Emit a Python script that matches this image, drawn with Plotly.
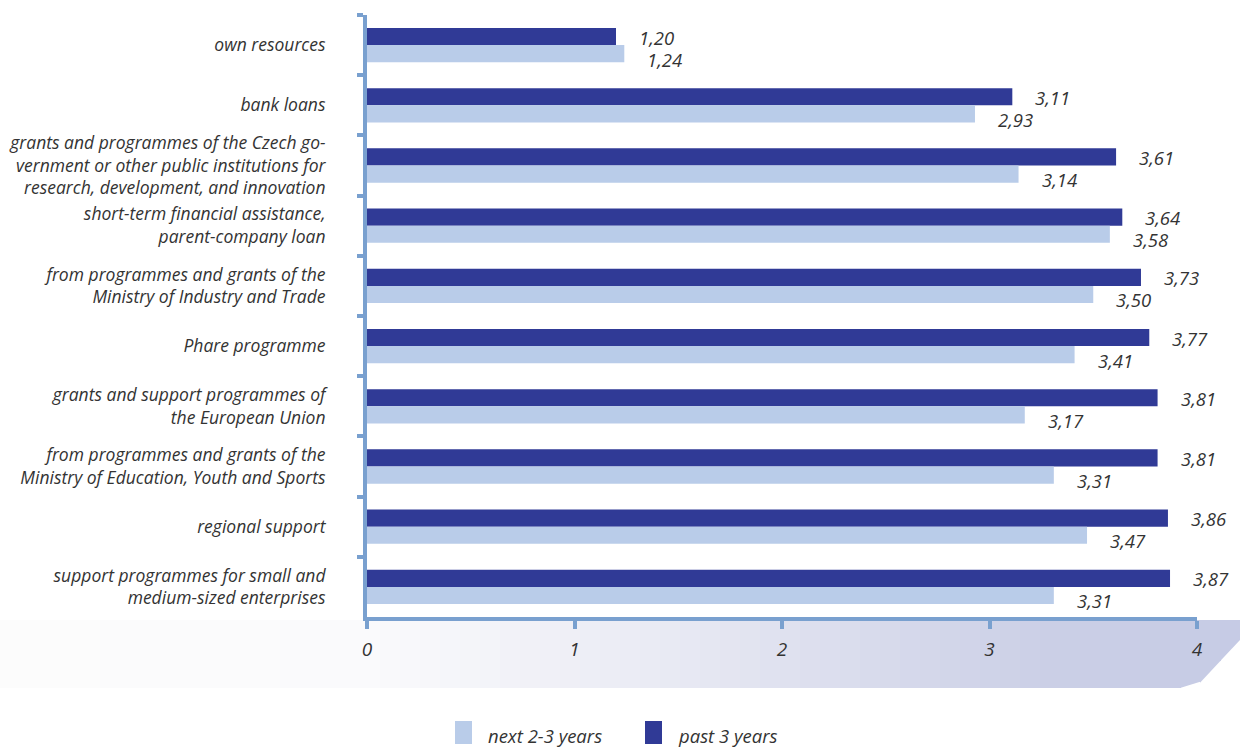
import plotly.graph_objects as go

categories = [
    "own resources",
    "bank loans",
    "grants and programmes of the Czech go-<br>vernment or other public institutions for<br>research, development, and innovation",
    "short-term financial assistance,<br>parent-company loan",
    "from programmes and grants of the<br>Ministry of Industry and Trade",
    "Phare programme",
    "grants and support programmes of<br>the European Union",
    "from programmes and grants of the<br>Ministry of Education, Youth and Sports",
    "regional support",
    "support programmes for small and<br>medium-sized enterprises",
]
past_3_years = [1.20, 3.11, 3.61, 3.64, 3.73, 3.77, 3.81, 3.81, 3.86, 3.87]
next_2_3_years = [1.24, 2.93, 3.14, 3.58, 3.50, 3.41, 3.17, 3.31, 3.47, 3.31]
x_ticks = [0, 1, 2, 3, 4]
series_names = ["next 2-3 years", "past 3 years"]

DARK = "#303a96"
LIGHT = "#b9cce9"
AXIS = "#79a0cf"
TEXT = "#333333"
FONT = "Open Sans"
FS = 17.5

W, H = 1240, 748
L, R, T, B = 367, 43, 15, 131
PW, PH = W - L - R, H - T - B


def px2x(px):
    return (px - L) / PW


def py2y(py):
    return (H - B - py) / PH


def fmt(v):
    return f"{v:.2f}".replace(".", ",")


def tfont(size=FS):
    return dict(family=FONT, size=size, color=TEXT, style="italic")


fig = go.Figure()
fig.add_trace(go.Bar(y=categories, x=past_3_years, orientation="h", name=series_names[1],
                     marker=dict(color=DARK, line=dict(width=0)), showlegend=False,
                     hoverinfo="x"))
fig.add_trace(go.Bar(y=categories, x=next_2_3_years, orientation="h", name=series_names[0],
                     marker=dict(color=LIGHT, line=dict(width=0)), showlegend=False,
                     hoverinfo="x"))

annotations = []
for c, v in zip(categories, past_3_years):
    annotations.append(dict(x=v, y=c, xref="x", yref="y", text=fmt(v), showarrow=False,
                            xanchor="left", yanchor="middle", xshift=21, yshift=8,
                            font=tfont(18.5)))
for c, v in zip(categories, next_2_3_years):
    annotations.append(dict(x=v, y=c, xref="x", yref="y", text=fmt(v), showarrow=False,
                            xanchor="left", yanchor="middle", xshift=21, yshift=-14,
                            font=tfont(18.5)))

shapes = []
# decorative background band under the x axis (light grey on the left, lavender to the right)
band_top, band_bot = 620, 688
stops = [(0, (252, 252, 252)), (370, (250, 250, 252)), (650, (234, 235, 244)),
         (900, (214, 217, 235)), (1050, (203, 207, 230)), (1240, (198, 203, 229))]


def col_at(px):
    for (x0, c0), (x1, c1) in zip(stops[:-1], stops[1:]):
        if x0 <= px <= x1:
            t = (px - x0) / (x1 - x0) if x1 > x0 else 0
            return tuple(int(round(a + (b - a) * t)) for a, b in zip(c0, c1))
    return stops[-1][1]


def edge_y(px):
    # slanted right edge: (1240, 640) -> (1195, 688)
    if px <= 1195:
        return band_bot
    return band_bot - (px - 1195) / 45 * 48


n = 62
step = W / n
for i in range(n):
    x0 = i * step
    x1 = min(W, (i + 1) * step + 1)
    c = col_at((x0 + x1) / 2)
    path = (f"M {px2x(x0)},{py2y(band_top)} L {px2x(x1)},{py2y(band_top)} "
            f"L {px2x(x1)},{py2y(edge_y(x1))} L {px2x(x0)},{py2y(edge_y(x0))} Z")
    shapes.append(dict(type="path", xref="paper", yref="paper", path=path,
                       fillcolor=f"rgb{c}", line=dict(width=0), layer="below"))

# custom legend
leg_items = [(455, LIGHT, series_names[0], 486), (645, DARK, series_names[1], 676)]
for sx, colr, name, tx in leg_items:
    shapes.append(dict(type="rect", xref="paper", yref="paper",
                       x0=px2x(sx), x1=px2x(sx + 17), y0=py2y(744), y1=py2y(721),
                       fillcolor=colr, line=dict(width=0)))
    annotations.append(dict(x=px2x(tx), y=py2y(735), xref="paper", yref="paper", text=name,
                            showarrow=False, xanchor="left", yanchor="middle",
                            font=tfont(18.5)))

fig.update_layout(
    width=W, height=H,
    margin=dict(l=L, r=R, t=T, b=B, autoexpand=False),
    paper_bgcolor="white", plot_bgcolor="rgba(0,0,0,0)",
    barmode="group", bargap=0.43, bargroupgap=0,
    font=tfont(FS),
    showlegend=False,
    shapes=shapes,
    annotations=annotations,
    separators=", ",
)
fig.update_xaxes(range=[0, 4], tickvals=x_ticks, ticktext=[str(t) for t in x_ticks],
                 showgrid=False, zeroline=False, showline=True, linecolor=AXIS, linewidth=4,
                 ticks="outside", ticklen=8, tickwidth=4, tickcolor=AXIS,
                 ticklabelstandoff=4, automargin=False,
                 tickfont=tfont(19))
fig.update_yaxes(type="category", categoryorder="array", categoryarray=categories,
                 autorange="reversed", showgrid=False, zeroline=False,
                 showline=True, linecolor=AXIS, linewidth=4,
                 ticks="outside", tickson="boundaries", ticklen=6, tickwidth=4, tickcolor=AXIS,
                 ticklabelstandoff=34, automargin=False,
                 tickfont=tfont(FS))

fig.write_html("out.html", config={"displayModeBar": False},
               post_script="document.body.style.margin='0';document.body.style.overflow='hidden';")
